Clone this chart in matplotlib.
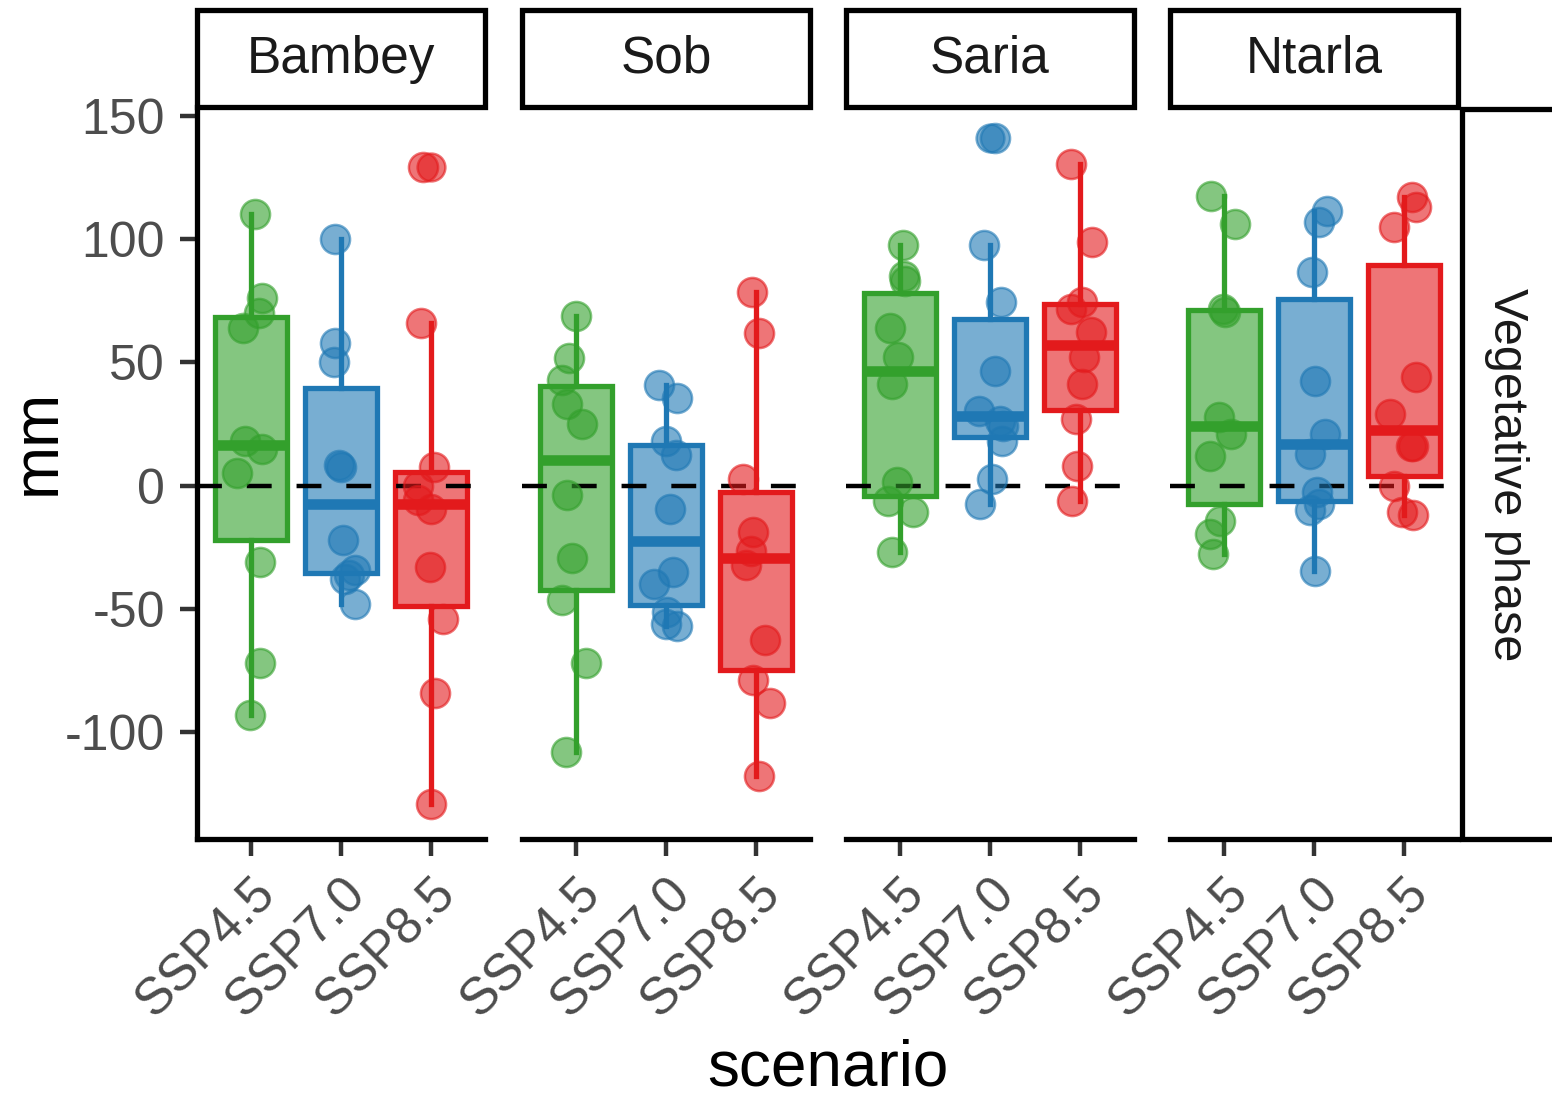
import matplotlib
matplotlib.use("Agg")
import matplotlib.pyplot as plt
import numpy as np
from matplotlib.patches import Rectangle

plt.rcParams["font.family"] = ["Liberation Sans", "DejaVu Sans"]
plt.rcParams["axes.unicode_minus"] = False

sites = ["Bambey", "Sob", "Saria", "Ntarla"]
scenarios = ["SSP4.5", "SSP7.0", "SSP8.5"]
colors = ["#33A02C", "#1F78B4", "#E31A1C"]

bambey_45 = [110, 76, 70, 64, 18, 15, 5, -31, -72, -93]
bambey_70 = [100, 58, 50, 8.5, 7.5, -22, -34, -36, -38, -48]
bambey_85 = [129, 66, 7.6, 0, -5.7, -9.5, -33, -54, -84, -129]
sob_45 = [68.7, 51.6, 42.7, 33, 25, -3.8, -29.4, -46.5, -72, -107.8]
sob_70 = [40.8, 35.7, 18, 12.3, -9.5, -35, -39.8, -51, -56, -57]
sob_85 = [78.7, 61.7, 2.8, -18.6, -26.6, -32.3, -62.6, -78.7, -88.2, -117.6]
saria_45 = [97.7, 85, 83, 63.8, 52, 41.2, 1.4, -6, -10.8, -27]
saria_70 = [141, 97.7, 74.6, 46.6, 30.4, 26.4, 24, 18.2, 2.7, -7.4]
saria_85 = [130.4, 98.6, 74.3, 71.6, 62.2, 52, 41.2, 27, 8.1, -6]
ntarla_45 = [117.6, 106, 71.6, 70.3, 27.7, 21, 12.2, -14.2, -19.6, -27.7]
ntarla_70 = [111.5, 106.8, 86.5, 42.6, 21, 12.8, -2.7, -7.4, -10, -34.5]
ntarla_85 = [116.9, 112.8, 104.7, 43.9, 29, 16.2, 16, 0, -10.8, -12]

site_data = {
    "Bambey": [bambey_45, bambey_70, bambey_85],
    "Sob": [sob_45, sob_70, sob_85],
    "Saria": [saria_45, saria_70, saria_85],
    "Ntarla": [ntarla_45, ntarla_70, ntarla_85],
}

W, H = 1552, 1095
fig = plt.figure(figsize=(W / 100, H / 100), dpi=100)

panel_left = [197, 522, 846, 1170]
panel_w = 288
panel_top, panel_bottom = 107, 839
rng = np.random.default_rng(7)
line_w = 3.8
grey = "#4D4D4D"

for k, site in enumerate(sites):
    x0 = panel_left[k]
    ax = fig.add_axes([x0 / W, 1 - panel_bottom / H, panel_w / W,
                       (panel_bottom - panel_top) / H])
    groups = site_data[site]
    pos = np.arange(1, len(scenarios) + 1)
    for i, vals in enumerate(groups):
        c = colors[i]
        ax.boxplot(
            vals, positions=[pos[i]], widths=0.8, patch_artist=True,
            showcaps=False, whis=1.5,
            boxprops=dict(facecolor=matplotlib.colors.to_rgba(c, 0.6),
                          edgecolor=c, linewidth=line_w),
            whiskerprops=dict(color=c, linewidth=line_w),
            medianprops=dict(color=c, linewidth=line_w * 2, solid_capstyle="butt"),
            flierprops=dict(marker="o", markersize=20, markerfacecolor=c,
                            markeredgecolor=c, alpha=0.6, markeredgewidth=1.8),
            zorder=2,
        )
        jit = rng.uniform(-0.16, 0.16, len(vals))
        ax.scatter(pos[i] + jit, vals, s=440, color=c, alpha=0.6,
                   edgecolors=c, linewidths=1.8, zorder=4)
    ax.axhline(0, color="black", lw=3.2, linestyle=(0, (5.6, 5.6)), zorder=3)

    ax.set_xlim(0.4, 3.6)
    ax.set_ylim(-143.2, 153.5)
    ax.set_xticks(pos)
    ax.set_xticklabels(scenarios, rotation=45, ha="right", va="top",
                       rotation_mode="anchor", fontsize=37, color=grey)
    ax.tick_params(axis="x", length=12, width=3.2, color="#333333", pad=9)
    for s in ["top", "right"]:
        ax.spines[s].set_visible(False)
    ax.spines["bottom"].set_linewidth(line_w)
    if k == 0:
        ax.spines["left"].set_linewidth(line_w)
        ax.set_yticks([-100, -50, 0, 50, 100, 150])
        ax.set_yticklabels(["-100", "-50", "0", "50", "100", "150"],
                           fontsize=36, color=grey)
        ax.tick_params(axis="y", length=12, width=3.2, color="#333333", pad=11)
    else:
        ax.spines["left"].set_visible(False)
        ax.set_yticks([])

    # facet strip on top
    fig.patches.append(Rectangle((x0 / W, 1 - panel_top / H), panel_w / W,
                                 (panel_top - 10) / H, transform=fig.transFigure,
                                 facecolor="white", edgecolor="black",
                                 linewidth=line_w))
    fig.text((x0 + panel_w / 2) / W, 1 - 59 / H, site, ha="center", va="center",
             fontsize=37, color="#1A1A1A")

# row strip on the right
fig.patches.append(Rectangle((1462 / W, 1 - panel_bottom / H), 120 / W,
                             (panel_bottom - 109) / H, transform=fig.transFigure,
                             facecolor="white", edgecolor="black", linewidth=line_w))
fig.text(1506 / W, 1 - 475 / H, "Vegetative phase", rotation=-90, ha="center",
         va="center", fontsize=35, color="#1A1A1A")

fig.text(828 / W, 1 - 1068 / H, "scenario", ha="center", va="center", fontsize=46)
fig.text(38 / W, 1 - 442 / H, "mm", rotation=90, ha="center", va="center",
         fontsize=46)

fig.savefig("out.png", dpi=100)
